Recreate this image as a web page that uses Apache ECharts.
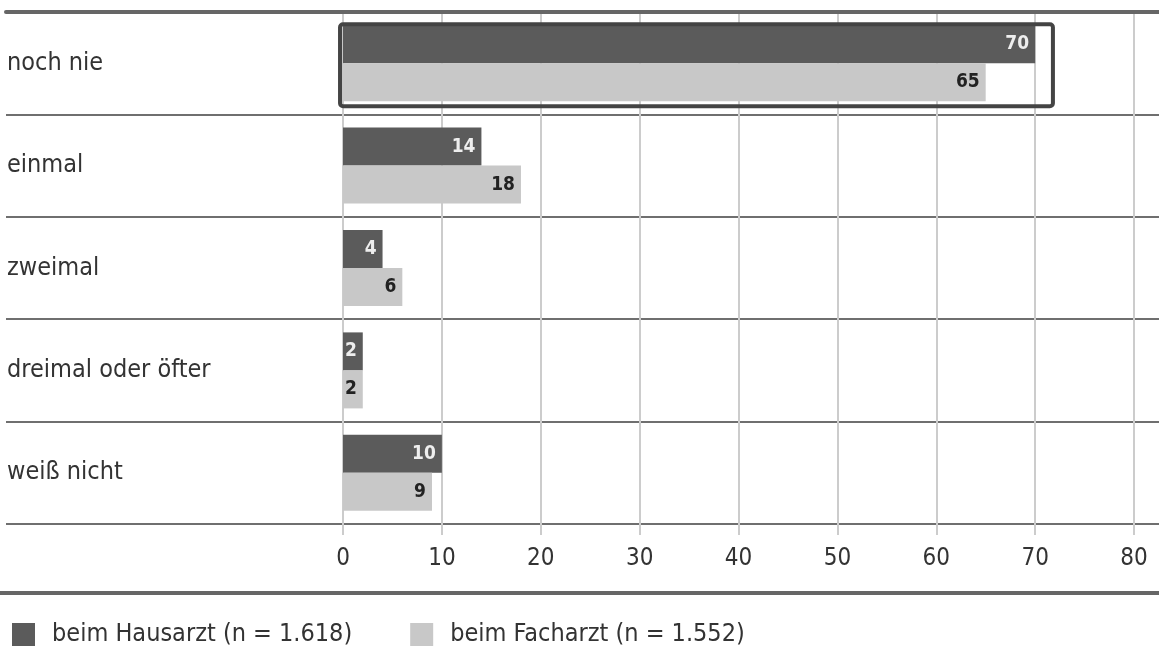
<!DOCTYPE html>
<html>
<head>
<meta charset="utf-8">
<script src="https://cdn.jsdelivr.net/npm/echarts@6/dist/echarts.min.js"></script>
<style>
  html, body { margin: 0; padding: 0; background: #fff; }
  #chart { width: 1159px; height: 653px; }
</style>
</head>
<body>
<div id="chart"></div>
<script>
// Häufigkeit, Angaben in Prozent
var categories = ['noch nie', 'einmal', 'zweimal', 'dreimal oder öfter', 'weiß nicht'];
var hausarzt = [70, 14, 4, 2, 10];
var facharzt = [65, 18, 6, 2, 9];
var seriesNames = ['beim Hausarzt (n = 1.618)', 'beim Facharzt (n = 1.552)'];
var xTicks = { min: 0, max: 80, interval: 10 };
var highlighted = 'noch nie';

var FONT = '"Liberation Sans Narrow", "DejaVu Sans Condensed", "Open Sans", sans-serif';

var chart = echarts.init(document.getElementById('chart'), null, { renderer: 'canvas' });

var option = {
  animation: false,
  textStyle: { fontFamily: FONT },
  grid: [
    // bars
    { left: 343, right: 25, top: 12, bottom: 129 },
    // category bands, separators and labels across the full width
    { left: 6, right: 0, top: 12, bottom: 129 }
  ],
  legend: {
    left: 7,
    top: 617,
    itemWidth: 23,
    itemHeight: 23,
    itemGap: 58,
    icon: 'rect',
    data: seriesNames,
    textStyle: { fontSize: 25, color: '#333', fontFamily: FONT, padding: [0, 0, 0, 12] }
  },
  xAxis: [
    {
      gridIndex: 0,
      type: 'value',
      min: xTicks.min,
      max: xTicks.max,
      interval: xTicks.interval,
      axisLine: { show: false },
      axisTick: { show: true, length: 11, lineStyle: { color: '#ccc', width: 2 } },
      splitLine: { show: true, lineStyle: { color: '#ccc', width: 2 } },
      axisLabel: { fontSize: 24, color: '#333', margin: 23, fontFamily: FONT }
    },
    {
      gridIndex: 1,
      type: 'value',
      position: 'top',
      axisLine: { show: true, lineStyle: { color: '#666', width: 4 } },
      axisTick: { show: false },
      axisLabel: { show: false },
      splitLine: { show: false }
    }
  ],
  yAxis: [
    {
      gridIndex: 0,
      type: 'category',
      data: categories,
      inverse: true,
      axisLine: { show: false },
      axisTick: { show: false },
      axisLabel: { show: false },
      splitLine: { show: false }
    },
    {
      gridIndex: 1,
      type: 'category',
      data: categories,
      inverse: true,
      axisLine: { show: false },
      axisTick: { show: false },
      splitLine: { show: true, lineStyle: { color: '#6f6f6f', width: 2 } },
      axisLabel: {
        inside: true,
        margin: 1,
        fontSize: 25,
        color: '#333',
        fontFamily: FONT,
        padding: [4, 0, 0, 0]
      }
    }
  ],
  series: [
    {
      name: seriesNames[0],
      type: 'bar',
      xAxisIndex: 0,
      yAxisIndex: 0,
      data: hausarzt,
      barWidth: 38,
      barGap: '0%',
      itemStyle: { color: '#5b5b5b' },
      label: {
        show: true,
        position: 'insideRight',
        distance: 6,
        color: '#eee',
        fontWeight: 'bold',
        fontSize: 19,
        fontFamily: FONT
      },
      z: 3
    },
    {
      name: seriesNames[1],
      type: 'bar',
      xAxisIndex: 0,
      yAxisIndex: 0,
      data: facharzt,
      barWidth: 38,
      barGap: '0%',
      itemStyle: { color: '#c8c8c8' },
      label: {
        show: true,
        position: 'insideRight',
        distance: 6,
        color: '#222',
        fontWeight: 'bold',
        fontSize: 19,
        fontFamily: FONT
      },
      z: 3
    }
  ]
};

chart.setOption(option);

// thick rule above the legend and the frame around the highlighted category
var x0 = chart.convertToPixel({ xAxisIndex: 0 }, -0.3);
var x1 = chart.convertToPixel({ xAxisIndex: 0 }, 71.8);
var yc = chart.convertToPixel({ yAxisIndex: 0 }, highlighted);

chart.setOption({
  graphic: [
    {
      type: 'rect',
      shape: { x: 0, y: 591, width: 1159, height: 4 },
      style: { fill: '#666' },
      z: 10
    },
    {
      type: 'rect',
      shape: { x: x0, y: yc - 39, width: x1 - x0, height: 82, r: 3 },
      style: { fill: 'none', stroke: '#444', lineWidth: 4 },
      z: 10
    }
  ]
});
</script>
</body>
</html>
